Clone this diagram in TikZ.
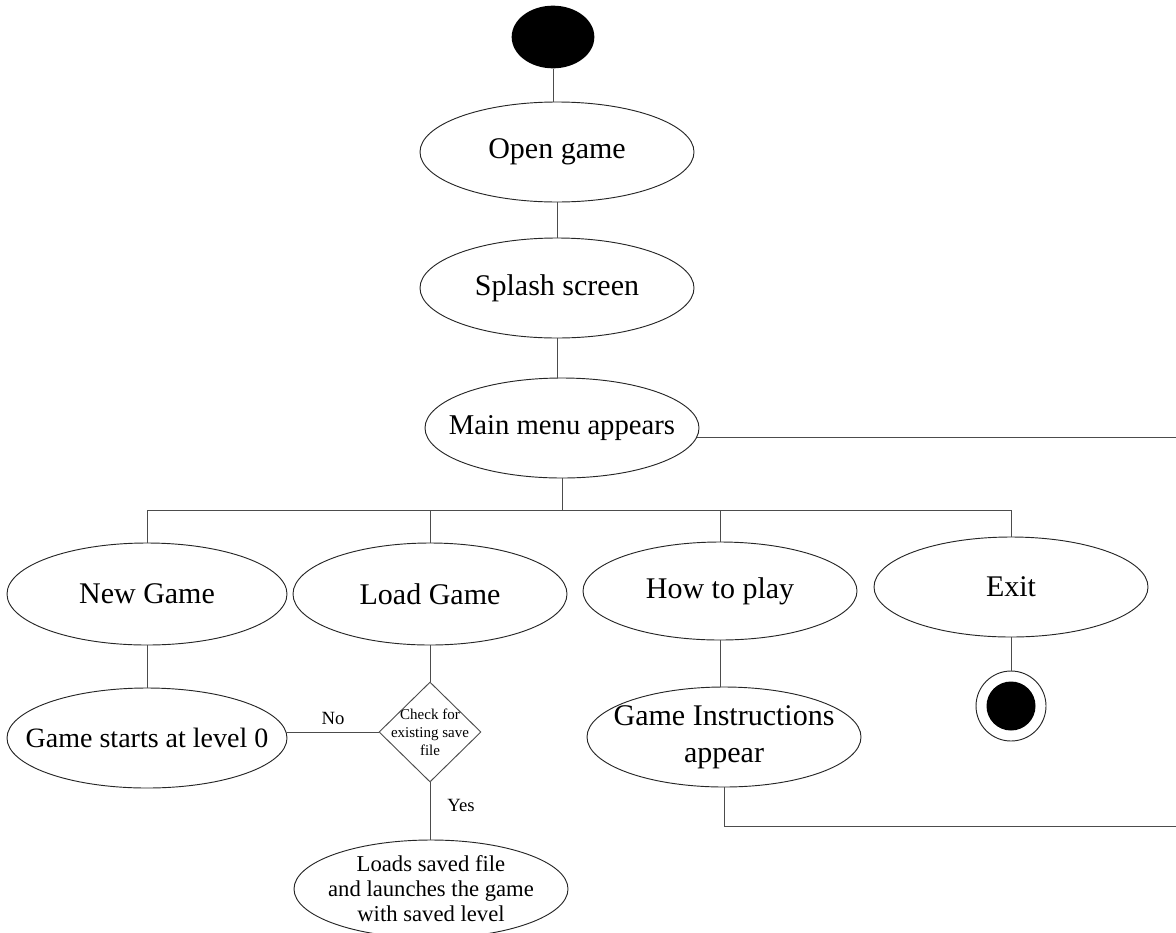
\documentclass[tikz,border=0pt]{standalone}
\usepackage{fontspec}
\setmainfont{Liberation Serif}
\usetikzlibrary{shapes.geometric}

\begin{document}
\begin{tikzpicture}[x=0.75pt,y=-0.75pt,
    state/.style={ellipse, draw=black!85, line width=0.7pt, minimum width=205.5pt,
        minimum height=75pt, inner sep=-30pt, align=center,
        font=\fontsize{22.5}{27.5}\selectfont},
    choice/.style={diamond, draw=black!70, line width=0.7pt, minimum width=76.5pt,
        minimum height=75pt, inner sep=-12pt, align=center,
        font=\fontsize{11.25}{13.5}\selectfont},
    tag/.style={inner sep=0pt, font=\fontsize{14}{16}\selectfont},
    wire/.style={draw=black!70, line width=0.7pt}]
        \useasboundingbox (0,0) rectangle (1176,932);

        % Start and menu
        \node [ellipse, fill=black, minimum width=62pt, minimum height=47pt] (start) at (553,37) {};
        \node [state] (open) at (557,152) {Open game};
        \node [state] (splash) at (557,288) {Splash screen};
        \node [state, font=\fontsize{21.5}{26}\selectfont] (mainmenu) at (562,428) {Main menu appears};
        \draw [wire] (start) -- (start |- open.north);
        \draw [wire] (open.south) -- (open.south |- splash.north);
        \draw [wire] (splash.south) -- (splash.south |- mainmenu.north);
        \coordinate (edgeA) at (1190,439);
        \draw [wire] (mainmenu.356) -- (mainmenu.356 -| edgeA);

        % Menu options
        \node [state, minimum width=210pt, minimum height=76.5pt] (newgame) at (147,594) {New Game};
        \node [state, minimum height=76.5pt] (loadgame) at (430,594) {Load Game};
        \node [state, minimum height=73.5pt] (howto) at (720,591) {How to play};
        \node [state] (exit) at (1011,587) {Exit};
        \coordinate (bus) at (562,510);
        \draw [wire] (mainmenu.south) -- (bus);
        \draw [wire] (newgame.north) -- (newgame.north |- bus) -- (exit.north |- bus) -- (exit.north);
        \draw [wire] (loadgame.north) -- (loadgame.north |- bus);
        \draw [wire] (howto.north) -- (howto.north |- bus);

        % New game
        \node [state, minimum width=210pt, font=\fontsize{21}{25}\selectfont] (gamestart) at (147,738) {Game starts at level 0};
        \draw [wire] (newgame) -- (gamestart);

        % Load game
        \node [choice] (check) at (430,732) {Check for\\existing save\\file};
        \node [state, minimum height=73.5pt, font=\fontsize{17}{18.75}\selectfont] (loads) at (431,889)
            {Loads saved file\\and launches the game\\with saved level};
        \draw [wire] (loadgame.south) -- (loadgame.south |- check.north);
        \draw [wire] (check.west) -- (check.west -| gamestart.east);
        \draw [wire] (check.south) -- (check.south |- loads.north);
        \node [tag] (no) at (333,718) {No};
        \node [tag] (yes) at (461,805) {Yes};

        % How to play
        \node [state] (instr) at (724,737) {Game Instructions\\appear};
        \draw [wire] (howto.south) -- (howto.south |- instr.north);
        \coordinate (edgeB) at (1190,826);
        \draw [wire] (instr.south) -- (instr.south |- edgeB) -- (edgeB);

        % Exit
        \node [circle, draw=black!85, line width=0.7pt, minimum size=52.5pt] (final) at (1011,706) {};
        \node [circle, fill=black, minimum size=36.75pt] (finaldot) at (final) {};
        \draw [wire] (exit.south) -- (exit.south |- final.north);
    \end{tikzpicture}
\end{document}
